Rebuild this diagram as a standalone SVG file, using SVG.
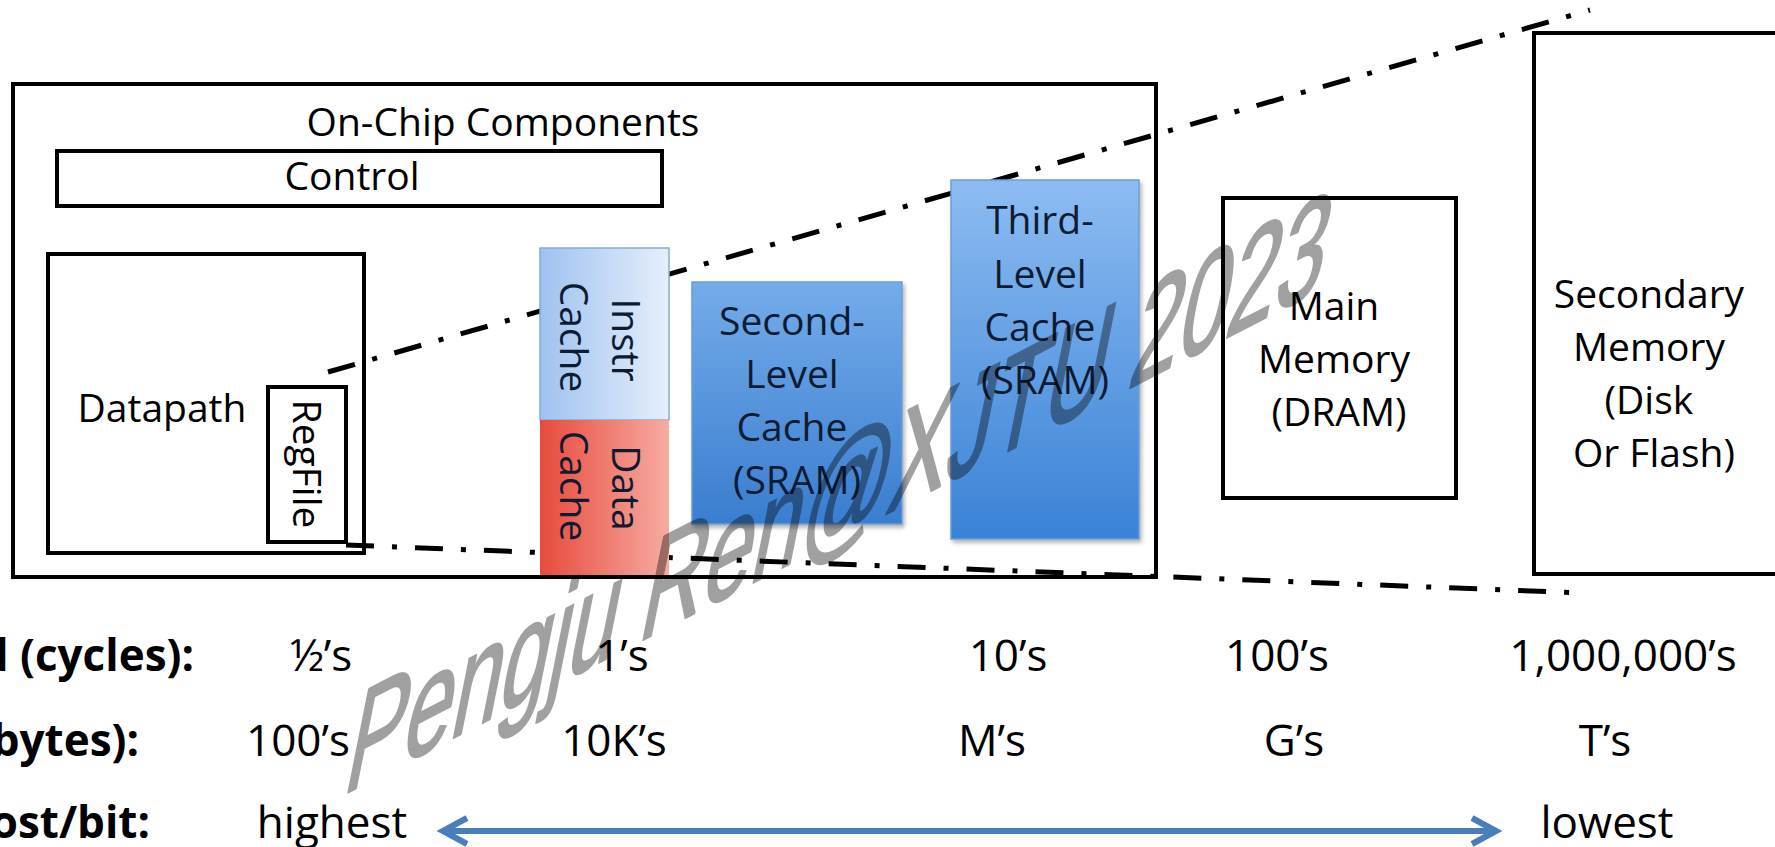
<svg xmlns="http://www.w3.org/2000/svg" width="1775" height="847" viewBox="0 0 1775 847">
  <style>
    .box { fill: none; stroke: #000; stroke-width: 4; }
    .lbl { font-family: "Open Sans", "Noto Sans", sans-serif; font-size: 39px; fill: #000; text-anchor: middle; }
    .navy { fill: #0d1b33; }
    .row { font-family: "Open Sans", "Noto Sans", sans-serif; font-size: 44px; fill: #000; text-anchor: middle; }
    .head { font-family: "Open Sans", "Noto Sans", sans-serif; font-size: 44px; font-weight: 700; fill: #000; text-anchor: end; }
    .dashdot { fill: none; stroke: #000; stroke-width: 5; stroke-dasharray: 28 18 5 18; }
    .arrow { fill: none; stroke: #4a7ebb; stroke-width: 6; marker-start: url(#chev); marker-end: url(#chev); }
    .mark { font-family: "Liberation Sans", Arial, sans-serif; font-size: 100px; fill: #000; stroke: #000; stroke-width: 1.8; stroke-linejoin: round; }
  </style>
  <defs>
    <linearGradient id="instrFill" x1="0" y1="0" x2="1" y2="0">
      <stop offset="0" stop-color="#9fc2f0"/>
      <stop offset="1" stop-color="#e6effb"/>
    </linearGradient>
    <linearGradient id="dataFill" x1="0" y1="0" x2="1" y2="0">
      <stop offset="0" stop-color="#e84a3d"/>
      <stop offset="1" stop-color="#f7aba2"/>
    </linearGradient>
    <linearGradient id="sramFill" x1="0" y1="0" x2="0" y2="1">
      <stop offset="0" stop-color="#74acea"/>
      <stop offset="1" stop-color="#3a7dcf"/>
    </linearGradient>
    <linearGradient id="sram3Fill" x1="0" y1="0" x2="0" y2="1">
      <stop offset="0" stop-color="#8dbcf2"/>
      <stop offset="1" stop-color="#3a82d6"/>
    </linearGradient>
    <filter id="soft" x="-10%" y="-10%" width="130%" height="130%">
      <feDropShadow dx="2" dy="3" stdDeviation="2" flood-color="#000" flood-opacity="0.3"/>
    </filter>
    <marker id="chev" viewBox="-28 -18 34 36" refX="0" refY="0" markerWidth="34" markerHeight="36" markerUnits="userSpaceOnUse" orient="auto-start-reverse">
      <path d="M -24 -13 L 0 0 L -24 13" fill="none" stroke="#4a7ebb" stroke-width="6"/>
    </marker>
  </defs>

  <rect width="1775" height="847" fill="#fff"/>

  <!-- chip outline and its title -->
  <g id="on-chip">
    <rect class="box" x="13" y="84" width="1143" height="493"/>
    <text class="lbl" x="503" y="136">On-Chip Components</text>
  </g>

  <g id="control">
    <rect class="box" x="57" y="151" width="605" height="55"/>
    <text class="lbl" x="352" y="190">Control</text>
  </g>

  <g id="datapath">
    <rect class="box" x="48" y="254" width="316" height="299"/>
    <text class="lbl" x="162" y="422">Datapath</text>
  </g>

  <!-- dash-dot projection lines sit behind the cache blocks -->
  <g id="connectors">
    <path class="dashdot" d="M 328 372 L 1590 10"/>
    <path class="dashdot" d="M 346 545 L 1584 593"/>
    <path class="arrow" d="M 443 831 L 1496 831"/>
  </g>

  <g id="regfile">
    <rect class="box" x="268" y="387" width="78" height="155" stroke-width="3.5"/>
    <text class="lbl" transform="translate(307 464) rotate(90)" y="14">RegFile</text>
  </g>

  <g id="instr-cache">
    <rect x="540" y="248" width="129" height="172" fill="url(#instrFill)" stroke="#86aadb" stroke-width="1.5"/>
    <text class="lbl navy" transform="translate(626 340) rotate(90)" y="14">Instr</text>
    <text class="lbl navy" transform="translate(574 337) rotate(90)" y="14">Cache</text>
  </g>

  <g id="data-cache">
    <rect x="540" y="420" width="129" height="155" fill="url(#dataFill)"/>
    <text class="lbl navy" transform="translate(626 488) rotate(90)" y="14">Data</text>
    <text class="lbl navy" transform="translate(574 486) rotate(90)" y="14">Cache</text>
  </g>

  <g id="l2-cache">
    <rect x="692" y="282" width="210" height="242" fill="url(#sramFill)" stroke="#6c9cd6" stroke-width="1.5" filter="url(#soft)"/>
    <text class="lbl navy">
      <tspan x="797" y="335">Second-</tspan>
      <tspan x="797" y="388">Level</tspan>
      <tspan x="797" y="441">Cache</tspan>
      <tspan x="797" y="494">(SRAM)</tspan>
    </text>
  </g>

  <g id="l3-cache">
    <rect x="951" y="180" width="188" height="359" fill="url(#sram3Fill)" stroke="#6c9cd6" stroke-width="1.5" filter="url(#soft)"/>
    <text class="lbl navy">
      <tspan x="1045" y="234">Third-</tspan>
      <tspan x="1045" y="288">Level</tspan>
      <tspan x="1045" y="341">Cache</tspan>
      <tspan x="1045" y="394">(SRAM)</tspan>
    </text>
  </g>

  <g id="main-memory">
    <rect class="box" x="1223" y="198" width="233" height="300"/>
    <text class="lbl">
      <tspan x="1339" y="320">Main</tspan>
      <tspan x="1339" y="373">Memory</tspan>
      <tspan x="1339" y="426">(DRAM)</tspan>
    </text>
  </g>

  <g id="secondary-memory">
    <rect class="box" x="1534" y="33" width="260" height="541"/>
    <text class="lbl">
      <tspan x="1654" y="308">Secondary</tspan>
      <tspan x="1654" y="361">Memory</tspan>
      <tspan x="1654" y="414">(Disk</tspan>
      <tspan x="1654" y="467">Or Flash)</tspan>
    </text>
  </g>

  <!-- comparison table under the hierarchy -->
  <g id="speed-row">
    <text class="head" x="194" y="671">d (cycles):</text>
    <text class="row" x="321" y="671">½’s</text>
    <text class="row" x="622" y="671">1’s</text>
    <text class="row" x="1008" y="671">10’s</text>
    <text class="row" x="1277" y="671">100’s</text>
    <text class="row" x="1623" y="671">1,000,000’s</text>
  </g>

  <g id="size-row">
    <text class="head" x="139" y="756">bytes):</text>
    <text class="row" x="298" y="756">100’s</text>
    <text class="row" x="614" y="756">10K’s</text>
    <text class="row" x="992" y="756">M’s</text>
    <text class="row" x="1294" y="756">G’s</text>
    <text class="row" x="1605" y="756">T’s</text>
  </g>

  <g id="cost-row">
    <text class="head" x="150" y="838">ost/bit:</text>
    <text class="row" x="332" y="838">highest</text>
    <text class="row" x="1607" y="838">lowest</text>
  </g>

  <!-- watermark, sheared upward along the hierarchy; group opacity keeps fill and stroke one tone -->
  <g opacity="0.37">
    <text class="mark" transform="matrix(0.87 -0.45 -0.3 1.5 341 796)">Pengju Ren@XJTU 2023</text>
  </g>
</svg>
